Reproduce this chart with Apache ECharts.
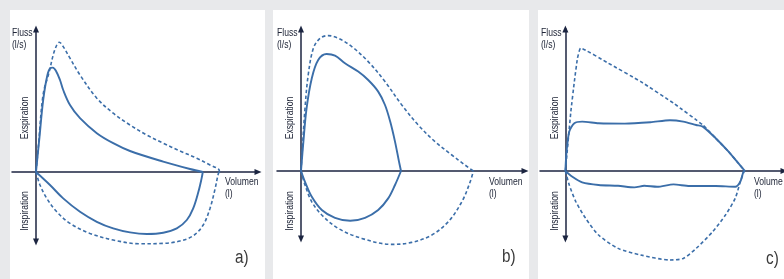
<!DOCTYPE html>
<html>
<head>
<meta charset="utf-8">
<script src="https://cdn.jsdelivr.net/npm/echarts@6/dist/echarts.min.js"></script>
<style>
html,body{margin:0;padding:0;background:#e8e9eb;}
#chart{width:784px;height:279px;}
</style>
</head>
<body>
<div id="chart"></div>
<script>
// Volume (l), flow (l/s) pairs
// Panel a)
var aExpRef = [[0,0],[0.06,1.3],[0.18,3.9],[0.33,5.0],[0.43,5.85],[0.52,6.35],[0.58,6.49],[0.68,6.27],[0.85,5.69],[1.1,4.85],[1.52,3.69],[1.93,2.94],[2.35,2.35],[2.77,1.85],[3.18,1.44],[3.6,1.05],[4.02,0.69],[4.35,0.35],[4.56,0.15],[4.59,0]];
var aExpPat = [[0,0],[0.08,1.6],[0.18,3.6],[0.28,4.8],[0.36,5.2],[0.42,5.22],[0.5,5.05],[0.6,4.6],[0.68,4.1],[0.85,3.35],[1.1,2.69],[1.52,1.94],[1.93,1.44],[2.35,1.05],[3.18,0.52],[3.85,0.15],[4.17,0]];
var aInsRef = [[0,0],[0.1,-0.65],[0.27,-1.32],[0.52,-1.99],[0.85,-2.57],[1.35,-3.07],[1.93,-3.4],[2.6,-3.59],[3.18,-3.57],[3.6,-3.45],[3.93,-3.19],[4.18,-2.65],[4.35,-1.82],[4.48,-0.82],[4.56,-0.07],[4.59,0]];
var aInsPat = [[0,0],[0.35,-0.65],[0.68,-1.32],[1.1,-1.99],[1.52,-2.49],[1.93,-2.82],[2.35,-3.02],[2.77,-3.1],[3.18,-3.04],[3.52,-2.82],[3.77,-2.4],[3.93,-1.82],[4.06,-0.99],[4.14,-0.32],[4.17,0]];
// Panel b)
var bExpRef = [[0,0],[0.03,0.97],[0.1,3.14],[0.18,4.8],[0.31,6.14],[0.48,6.64],[0.68,6.77],[0.93,6.64],[1.27,6.22],[1.68,5.47],[2.1,4.47],[2.52,3.3],[2.93,2.3],[3.35,1.47],[3.77,0.8],[4.1,0.3],[4.31,0]];
var bExpPat = [[0,0],[0.06,1.47],[0.14,3.14],[0.27,4.64],[0.43,5.55],[0.64,5.85],[0.85,5.77],[1.1,5.39],[1.43,4.97],[1.68,4.55],[1.93,3.97],[2.1,3.3],[2.23,2.47],[2.35,1.47],[2.45,0.47],[2.5,0]];
var bInsRef = [[0,0],[0.1,-0.7],[0.27,-1.54],[0.52,-2.2],[0.93,-2.87],[1.52,-3.37],[2.27,-3.67],[2.77,-3.57],[3.27,-3.2],[3.68,-2.54],[4.02,-1.54],[4.23,-0.54],[4.31,0]];
var bInsPat = [[0,0],[0.1,-0.54],[0.27,-1.29],[0.52,-1.95],[0.85,-2.34],[1.23,-2.49],[1.6,-2.34],[1.93,-1.95],[2.18,-1.37],[2.35,-0.7],[2.5,0]];
// Panel c)
var cExpRef = [[0,0],[0.05,1.05],[0.14,2.97],[0.23,4.47],[0.31,5.64],[0.39,6.14],[1.1,5.39],[1.93,4.47],[2.77,3.39],[3.52,2.3],[3.85,1.64],[4.18,0.97],[4.43,0.39],[4.6,0]];
var cExpPat = [[0,0],[0.03,0.97],[0.1,1.97],[0.23,2.39],[0.43,2.47],[0.85,2.39],[1.52,2.37],[2.18,2.44],[2.68,2.54],[3.02,2.47],[3.35,2.3],[3.52,2.22],[3.85,1.64],[4.18,0.97],[4.43,0.39],[4.6,0]];
var cInsRef = [[0,0],[0.1,-0.7],[0.27,-1.54],[0.52,-2.37],[0.85,-3.2],[1.35,-3.87],[1.93,-4.2],[2.68,-4.45],[3.02,-4.37],[3.35,-3.87],[3.77,-3.04],[4.1,-2.2],[4.35,-1.37],[4.48,-0.54],[4.58,0]];
var cInsPat = [[0,0],[0.18,-0.29],[0.43,-0.57],[0.85,-0.7],[1.35,-0.74],[1.77,-0.82],[2.02,-0.74],[2.35,-0.79],[2.77,-0.67],[3.18,-0.75],[3.85,-0.75],[4.35,-0.79],[4.48,-0.54],[4.56,-0.04],[4.6,0]];

var panelLabels = ['a)', 'b)', 'c)'];
var yLabelTop = 'Fluss';
var yLabelUnit = '(l/s)';
var xLabelA = 'Volumen';
var xLabelC = 'Volume';
var xLabelUnit = '(l)';
var expLabel = 'Exspiration';
var insLabel = 'Inspiration';

var AX = '#1c2541';
var CURVE = '#3b6ea9';
var FONT = '"Liberation Sans",Arial,sans-serif';

var grids = [
  {left:12, top:29, width:246, height:213},
  {left:277, top:29, width:248, height:210},
  {left:540, top:29, width:250, height:210}
];
var xr = [[-0.6,5.55],[-0.6,5.6],[-0.65,5.6]];
var yr = [[-3.5,7.15],[-3.4,7.1],[-3.4,7.1]];

var xAxes = [], yAxes = [], series = [];
for (var i=0;i<3;i++){
  xAxes.push({type:'value', gridIndex:i, min:xr[i][0], max:xr[i][1],
    axisLine:{show:true, onZero:true, symbol:['none','triangle'], symbolSize:[6,7], lineStyle:{color:AX, width:1.5}},
    axisTick:{show:false}, axisLabel:{show:false}, splitLine:{show:false}});
  yAxes.push({type:'value', gridIndex:i, min:yr[i][0], max:yr[i][1],
    axisLine:{show:true, onZero:true, symbol:['triangle','triangle'], symbolSize:[6,7], lineStyle:{color:AX, width:1.5}},
    axisTick:{show:false}, axisLabel:{show:false}, splitLine:{show:false}});
}
var sets = [[aExpRef,aExpPat,aInsRef,aInsPat],[bExpRef,bExpPat,bInsRef,bInsPat],[cExpRef,cExpPat,cInsRef,cInsPat]];
var smoothing = [0.35, 0.35, 0.25];
for (var i=0;i<3;i++){
  for (var k=0;k<4;k++){
    var dashed = (k%2===0);
    series.push({type:'line', xAxisIndex:i, yAxisIndex:i, data:sets[i][k], showSymbol:false, symbol:'none',
      smooth: (i===2 && k===0) ? 0.12 : smoothing[i], clip:false, silent:true, animation:false,
      lineStyle: dashed ? {color:CURVE, width:1.6, type:[3.5,2.5]} : {color:CURVE, width:1.9}});
  }
}

function txt(x,y,s,opt){
  opt = opt||{};
  return {type:'text', x:x, y:y, rotation: opt.rot||0, scaleX: opt.sx||0.82, silent:true, z:10,
    style:{text:s, fill: opt.fill||'#22283a', font: (opt.weight||'normal')+' '+(opt.size||10.5)+'px '+FONT,
      textAlign: opt.align||'left', textVerticalAlign:'middle'}};
}
var panels = [[10,265],[273,529],[538,784]];
var graphics = [];
for (var i=0;i<3;i++){
  graphics.push({type:'rect', shape:{x:panels[i][0], y:10, width:panels[i][1]-panels[i][0], height:269}, style:{fill:'#ffffff'}, z:-10, silent:true});
}
var fx = [12, 277, 541], ex = [25, 290, 555], vx = [225, 489, 754];
for (var i=0;i<3;i++){
  graphics.push(txt(fx[i], 33, yLabelTop));
  graphics.push(txt(fx[i], 45, yLabelUnit));
  graphics.push(txt(ex[i], 118, expLabel, {rot:Math.PI/2, align:'center'}));
  graphics.push(txt(ex[i], 211, insLabel, {rot:Math.PI/2, align:'center'}));
  graphics.push(txt(vx[i], 182, i===2 ? xLabelC : xLabelA));
  graphics.push(txt(vx[i], 194, xLabelUnit));
}
graphics.push(txt(235, 258, panelLabels[0], {size:18, fill:'#3a3a3a', sx:0.85}));
graphics.push(txt(502, 257, panelLabels[1], {size:18, fill:'#3a3a3a', sx:0.85}));
graphics.push(txt(766, 259, panelLabels[2], {size:18, fill:'#3a3a3a', sx:0.85}));

var chart = echarts.init(document.getElementById('chart'), null, {renderer:'canvas'});
chart.setOption({
  backgroundColor:'#e8e9eb',
  animation:false,
  grid: grids,
  xAxis: xAxes,
  yAxis: yAxes,
  series: series,
  graphic: graphics
});
</script>
</body>
</html>
